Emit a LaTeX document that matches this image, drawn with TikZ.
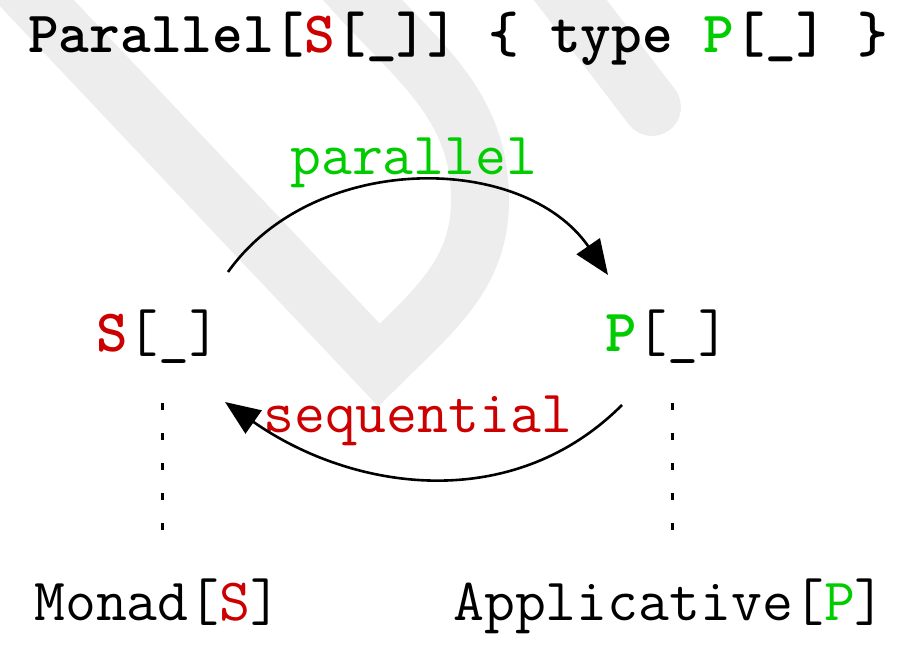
\documentclass[tikz,border=0pt]{standalone}
\usepackage{tikz}
\usetikzlibrary{arrows.meta}
\usetikzlibrary{positioning}
\definecolor{sred}{RGB}{204,0,0}
\definecolor{pgreen}{RGB}{0,204,0}
\definecolor{wmark}{RGB}{237,237,237}

\begin{document}
\begin{tikzpicture}[x=1pt, y=1pt]
	\tikzstyle{codenode}=[inner sep=0, anchor=base west, font=\ttfamily\fontsize{60}{62}\selectfont]
	\tikzstyle{boldnode}=[codenode, font=\ttfamily\bfseries\fontsize{58.5}{60}\selectfont]
	\tikzstyle{flow}=[-{Triangle[length=35pt, width=28pt]}, line width=2.6pt]
	\tikzstyle{link}=[line width=3pt, dash pattern=on 7pt off 23pt]
	\tikzstyle{band}=[line width=58pt, wmark]
	
	\useasboundingbox (0,0) rectangle (912,654);
	
	% watermark
	\begin{scope}
		\clip (0,0) rectangle (912,654);
		\draw [band, line join=miter] (15,674) -- (379,289) to[out=45, in=-90] (480,454) to[out=90, in=-50] (340,679);
		\draw [band, line cap=round] (555,674) -- (652,547);
	\end{scope}
	
	\node (title) at (28,601) [boldnode] {Parallel[\textcolor{sred}{S}[\_]] \{ type \textcolor{pgreen}{P}[\_] \}};
	
	\node (s) at (96,303) [codenode] {\textbf{\textcolor{sred}{S}}[\_]};
	\node (p) at (605,303) [codenode] {\textbf{\textcolor{pgreen}{P}}[\_]};
	
	\node (par) at (290,479) [codenode, text=pgreen] {parallel};
	\node (seq) at (263,222) [codenode, text=sred] {sequential};
	
	\node (m) at (34,34) [codenode] {Monad[\textcolor{sred}{S}]};
	\node (a) at (453,34) [codenode] {Applicative[\textcolor{pgreen}{P}]};
	
	\coordinate (s-up) at (228,382);
	\coordinate (p-up) at (608,379);
	\coordinate (p-low) at (622,249);
	\coordinate (s-low) at (225,252);
	
	\draw [flow] (s-up) to[bend left=55] (p-up);
	\draw [flow] (p-low) to[out=-135, in=-35] (s-low);
	
	\coordinate (s-dot) at (162,251);
	\coordinate (m-dot) at (162,121);
	\coordinate (p-dot) at (672,251);
	\coordinate (a-dot) at (672,121);
	
	\draw [link] (s-dot) -- (m-dot);
	\draw [link] (p-dot) -- (a-dot);
\end{tikzpicture}
\end{document}
